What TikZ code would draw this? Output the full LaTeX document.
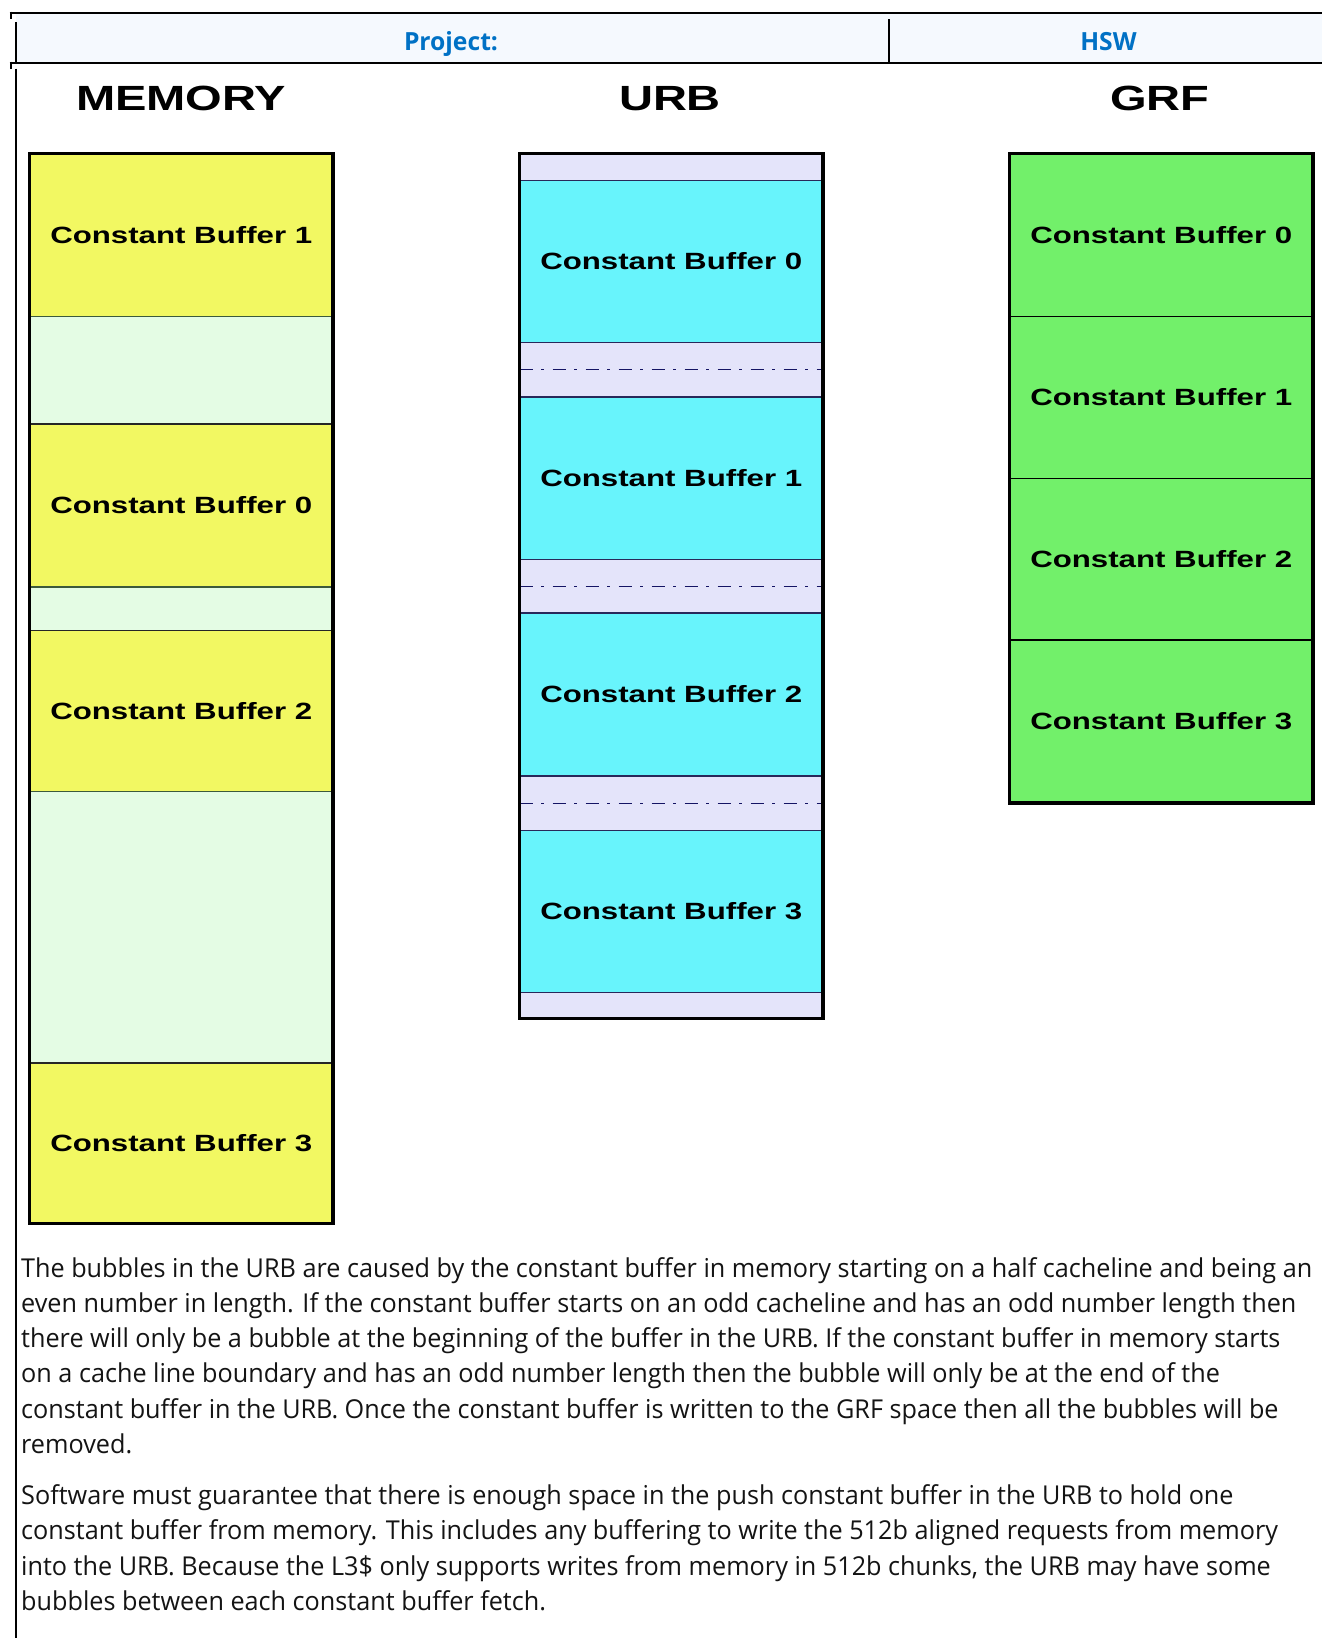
\documentclass[tikz,border=0pt]{standalone}
\usepackage{graphicx}
\usepackage{fontspec}
\setmainfont{Open Sans}
\newfontfamily\lblfont{Liberation Sans}
\newfontfamily\parafont{Open Sans}
\definecolor{memY}{RGB}{242,248,98}
\definecolor{memG}{RGB}{228,252,228}
\definecolor{urbC}{RGB}{104,244,252}
\definecolor{urbL}{RGB}{228,228,250}
\definecolor{grfG}{RGB}{114,240,106}
\definecolor{hdrbg}{RGB}{245,249,254}
\definecolor{hdrblue}{RGB}{0,113,197}
\definecolor{dashc}{RGB}{20,20,100}
\definecolor{urbline}{RGB}{40,40,90}
\definecolor{memline}{RGB}{60,90,60}
\definecolor{paratext}{RGB}{20,20,20}
\newcommand\lblsize{\lblfont\bfseries\fontsize{23.5}{26}\selectfont}
\newcommand\ttlsize{\lblfont\bfseries\fontsize{35}{40}\selectfont}
\newcommand\parsize{\parafont\fontsize{26}{30}\selectfont}
\newcommand\hdrsize{\parafont\bfseries\fontsize{25}{28}\selectfont}
\newsavebox\measbox
\newcommand\measscale[3]{% #1 macro, #2 target width, #3 content
  \sbox\measbox{#3}%
  \pgfmathsetmacro\tmpscale{#2/\wd\measbox}%
  \global\let#1\tmpscale}
\newcommand\cbl[1]{\scalebox{\lblscale}[1]{Constant Buffer #1}}
\tikzset{
  sec/.style={rectangle, inner sep=0pt, outer sep=0pt, minimum width=303.5pt, anchor=north west, line width=1.2pt, font=\lblsize},
  memcb/.style={sec, fill=memY, draw=black!85},
  membub/.style={sec, fill=memG, draw=memline},
  urbcb/.style={sec, fill=urbC, draw=urbline},
  urbbub/.style={sec, fill=urbL, draw=urbline},
  grfcb/.style={sec, fill=grfG, draw=black},
  colborder/.style={draw=black, line width=3.5pt},
  bubline/.style={draw=dashc, line width=1.4pt, dash pattern=on 13pt off 8.5pt on 3pt off 8.5pt},
  ttl/.style={font=\ttlsize, inner sep=0pt, anchor=base},
  para/.style={font=\parsize, text=paratext, inner sep=0pt, anchor=base west},
  hdr/.style={font=\hdrsize, text=hdrblue, inner sep=0pt, anchor=base},
  hrule/.style={line width=2pt},
}
\begin{document}
\measscale{\lblscale}{262}{\lblsize Constant Buffer 1}%
\measscale{\ttlscale}{210}{\ttlsize MEMORY}%
\measscale{\parscale}{1291}{\parsize The bubbles in the URB are caused by the constant buffer in memory starting on a half cacheline and being an}%
\measscale{\hdrscale}{94}{\hdrsize Project:}%
\begin{tikzpicture}[x=1pt,y=-1pt]
\useasboundingbox[fill=white] (0,0) rectangle (1322,1638);

% header
\fill[hdrbg] (16,13.5) rectangle (1322,61.5);
\draw[hrule] (9.5,12.5) -- (1322,12.5);
\draw[line width=2pt] (10.5,11.5) -- (10.5,19);
\draw[line width=1.7pt] (16,22) -- (16,61.5);
\draw[hrule] (9.5,62.5) -- (1322,62.5);
\draw[line width=2pt] (10.5,61.5) -- (10.5,69);
\draw[line width=1.7pt] (16,68.5) -- (16,1638);
\draw[line width=1.5pt] (889,19) -- (889,62);
\node[hdr] (proj) at (451,50.5) {\scalebox{\hdrscale}[1]{Project:}};
\node[hdr] (hsw) at (1108.5,50.5) {\scalebox{\hdrscale}[1]{HSW}};

% titles
\node[ttl] (tmem) at (181,110) {\scalebox{\ttlscale}[1]{MEMORY}};
\node[ttl] (turb) at (670,110) {\scalebox{\ttlscale}[1]{URB}};
\node[ttl] (tgrf) at (1160,110) {\scalebox{\ttlscale}[1]{GRF}};

% memory column
\node[memcb, minimum height=163pt] (m1) at (29.5,153.5) {\cbl{1}};
\node[membub, minimum height=107.5pt] (mb1) at (29.5,316.5) {};
\node[memcb, minimum height=163pt] (m0) at (29.5,424) {\cbl{0}};
\node[membub, minimum height=43.5pt] (mb2) at (29.5,587) {};
\node[memcb, minimum height=161pt] (m2) at (29.5,630.5) {\cbl{2}};
\node[membub, minimum height=271.5pt] (mb3) at (29.5,791.5) {};
\node[memcb, minimum height=160.5pt] (m3) at (29.5,1063) {\cbl{3}};
\draw[colborder] (m1.north west) rectangle (m3.south east);

% URB column
\node[urbbub, minimum height=27pt] (ub0) at (519.5,153.5) {};
\node[urbcb, minimum height=162pt] (u0) at (519.5,180.5) {\cbl{0}};
\node[urbbub, minimum height=54.5pt] (ub1) at (519.5,342.5) {};
\node[urbcb, minimum height=162.5pt] (u1) at (519.5,397) {\cbl{1}};
\node[urbbub, minimum height=53.5pt] (ub2) at (519.5,559.5) {};
\node[urbcb, minimum height=163pt] (u2) at (519.5,613) {\cbl{2}};
\node[urbbub, minimum height=54.5pt] (ub3) at (519.5,776) {};
\node[urbcb, minimum height=162pt] (u3) at (519.5,830.5) {\cbl{3}};
\node[urbbub, minimum height=26pt] (ub4) at (519.5,992.5) {};
\draw[bubline] (ub1.west) -- (ub1.east);
\draw[bubline] (ub2.west) -- (ub2.east);
\draw[bubline] (ub3.west) -- (ub3.east);
\draw[colborder] (ub0.north west) rectangle (ub4.south east);

% GRF column
\node[grfcb, minimum height=163pt] (g0) at (1009.5,153.5) {\cbl{0}};
\node[grfcb, minimum height=162pt] (g1) at (1009.5,316.5) {\cbl{1}};
\node[grfcb, minimum height=161.5pt] (g2) at (1009.5,478.5) {\cbl{2}};
\node[grfcb, minimum height=163pt] (g3) at (1009.5,640) {\cbl{3}};
\draw[colborder] (g0.north west) rectangle (g3.south east);

% paragraphs
\node[para] (p1) at (21,1277) {\scalebox{\parscale}[1]{The bubbles in the URB are caused by the constant buffer in memory starting on a half cacheline and being an}};
\node[para] (p2) at (21,1312.3) {\scalebox{\parscale}[1]{even number in length. If the constant buffer starts on an odd cacheline and has an odd number length then}};
\node[para] (p3) at (21,1347.6) {\scalebox{\parscale}[1]{there will only be a bubble at the beginning of the buffer in the URB. If the constant buffer in memory starts}};
\node[para] (p4) at (21,1382.9) {\scalebox{\parscale}[1]{on a cache line boundary and has an odd number length then the bubble will only be at the end of the}};
\node[para] (p5) at (21,1418.2) {\scalebox{\parscale}[1]{constant buffer in the URB. Once the constant buffer is written to the GRF space then all the bubbles will be}};
\node[para] (p6) at (21,1453.5) {\scalebox{\parscale}[1]{removed.}};
\node[para] (q1) at (21,1504.4) {\scalebox{\parscale}[1]{Software must guarantee that there is enough space in the push constant buffer in the URB to hold one}};
\node[para] (q2) at (21,1539.7) {\scalebox{\parscale}[1]{constant buffer from memory. This includes any buffering to write the 512b aligned requests from memory}};
\node[para] (q3) at (21,1575) {\scalebox{\parscale}[1]{into the URB. Because the L3\$ only supports writes from memory in 512b chunks, the URB may have some}};
\node[para] (q4) at (21,1610.3) {\scalebox{\parscale}[1]{bubbles between each constant buffer fetch.}};
\end{tikzpicture}
\end{document}
